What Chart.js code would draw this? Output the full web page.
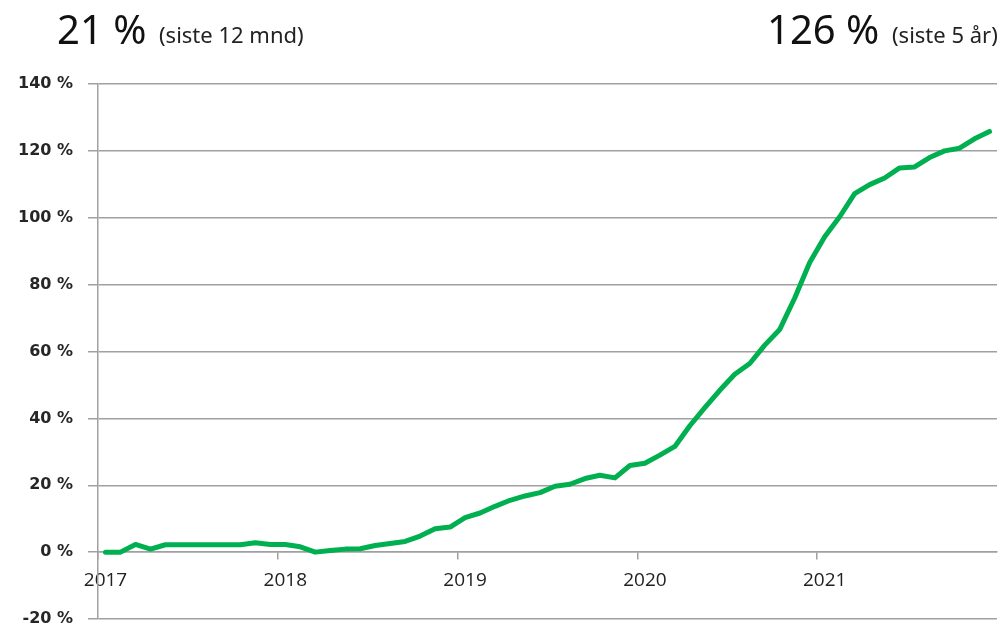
<!DOCTYPE html>
<html>
<head>
<meta charset="utf-8">
<script src="https://cdn.jsdelivr.net/npm/chart.js@4.4.0/dist/chart.umd.min.js"></script>
<style>
  body { margin: 0; background: #fff; overflow: hidden; }
  #wrap { position: relative; width: 1006px; height: 627px; }
  .big { position: absolute; font-family: "Noto Sans", sans-serif; font-size: 40px; line-height: 40px; color: #111; white-space: nowrap; }
  .small { position: absolute; font-family: "Noto Sans", sans-serif; font-size: 22px; line-height: 22px; color: #222; white-space: nowrap; }
</style>
</head>
<body>
<div id="wrap">
  <canvas id="growthChart" width="1006" height="627"></canvas>
  <span class="big" style="left:57px; top:9px;">21 %</span>
  <span class="small" style="left:159px; top:23px;">(siste 12 mnd)</span>
  <span class="big" style="left:767px; top:9px;">126 %</span>
  <span class="small" style="left:892px; top:23px;">(siste 5 år)</span>
</div>
<script>
'use strict';

// years shown on the x axis, one label per january
var years = ['2017', '2018', '2019', '2020', '2021'];

// monthly values (%), jan 2017 - dec 2021
var values2017 = [0, 0, 2.3, 0.9, 2.2, 2.2, 2.2, 2.2, 2.2, 2.2, 2.8, 2.3];
var values2018 = [2.3, 1.6, 0, 0.5, 0.9, 1.0, 2.0, 2.6, 3.2, 4.8, 7.0, 7.5];
var values2019 = [10.3, 11.7, 13.7, 15.5, 16.8, 17.8, 19.7, 20.3, 22.0, 23.0, 22.2, 25.9];
var values2020 = [26.6, 29.0, 31.6, 37.8, 43.2, 48.4, 53.2, 56.4, 61.9, 66.6, 76.0, 86.6];
var values2021 = [94.3, 100.3, 107.2, 109.9, 111.9, 114.9, 115.2, 118.0, 120.0, 120.8, 123.6, 125.8];

// y axis ticks
var yTicks = [-20, 0, 20, 40, 60, 80, 100, 120, 140];

var gridColor = '#a0a0a0';
var lineColor = '#00b050';

// one category per month
var months = [];
var values = [];
var yearValues = [values2017, values2018, values2019, values2020, values2021];
for (var y = 0; y < years.length; y++) {
  for (var m = 0; m < 12; m++) {
    months.push(years[y] + '-' + (m + 1));
    values.push(yearValues[y][m]);
  }
}

var ctx = document.getElementById('growthChart').getContext('2d');
var lineChart = new Chart(ctx, {
  type: 'line',
  data: {
    labels: months,
    datasets: [{
      data: values,
      borderColor: lineColor,
      borderWidth: 5,
      borderCapStyle: 'round',
      borderJoinStyle: 'round',
      pointRadius: 0,
      tension: 0,
      fill: false
    }]
  },
  options: {
    responsive: false,
    animation: false,
    layout: {
      padding: { top: 84, right: 9, bottom: 8, left: 0 }
    },
    plugins: {
      legend: { display: false },
      tooltip: { enabled: false }
    },
    scales: {
      x: {
        type: 'category',
        offset: true,
        position: { y: 0 },
        afterFit: function(scale) {
          scale.height = 0;
        },
        grid: {
          offset: true,
          drawOnChartArea: false,
          drawTicks: true,
          tickLength: 7,
          lineWidth: 1.5,
          color: function(c) {
            return c.index % 12 === 0 ? gridColor : 'rgba(0,0,0,0)';
          }
        },
        border: { display: true, color: gridColor, width: 1.5 },
        ticks: {
          autoSkip: false,
          maxRotation: 0,
          minRotation: 0,
          padding: 10,
          color: '#222',
          font: { family: 'Open Sans', size: 19 },
          callback: function(val, index) {
            return index % 12 === 0 ? years[index / 12] : '';
          }
        }
      },
      y: {
        min: yTicks[0],
        max: yTicks[yTicks.length - 1],
        afterFit: function(scale) {
          // fixed axis width, and no extra room for half labels at the ends
          scale.width = 98;
          scale.paddingTop = 0;
          scale.paddingBottom = 0;
        },
        afterBuildTicks: function(scale) {
          scale.ticks = yTicks.map(function(v) { return { value: v }; });
        },
        grid: {
          color: gridColor,
          lineWidth: 1.5,
          drawTicks: true,
          tickLength: 10
        },
        border: { display: true, color: gridColor, width: 1.5 },
        ticks: {
          padding: 15,
          color: '#262626',
          font: { family: 'DejaVu Sans', size: 16, weight: 'bold' },
          callback: function(v) {
            return v + ' %';
          }
        }
      }
    }
  }
});
</script>
</body>
</html>
